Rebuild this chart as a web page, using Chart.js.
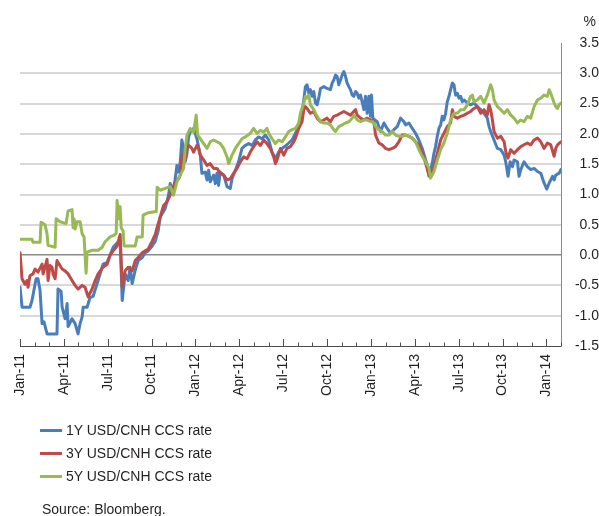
<!DOCTYPE html>
<html><head><meta charset="utf-8">
<script src="https://cdn.jsdelivr.net/npm/chart.js@4.4.0/dist/chart.umd.min.js"></script>
<style>
html,body{margin:0;padding:0;background:#fff;}
#wrap{position:relative;width:599px;height:516px;overflow:hidden;font-family:"Liberation Sans",Arial,Helvetica,sans-serif;color:#231f20;}
#chart{position:absolute;left:0;top:0;}
#legend{position:absolute;left:40px;top:420px;width:300px;height:70px;}
.item{position:absolute;left:0;height:20px;white-space:nowrap;font-size:14px;line-height:20px;}
.sw{position:absolute;left:0;top:9px;width:22px;height:3px;}
.lbl{position:absolute;left:26px;top:0;}
#src{position:absolute;left:42px;top:499px;font-size:14px;line-height:20px;}
#pct{position:absolute;right:3px;top:11px;font-size:14px;line-height:20px;}
</style></head>
<body>
<div id="wrap">
<canvas id="chart" width="599" height="516"></canvas>
<div id="pct">%</div>
<div id="legend"></div>
<div id="src">Source: Bloomberg.</div>
</div>
<script>
// x values are months elapsed since the start of January 2011
const tickLabels = ['Jan-11','Apr-11','Jul-11','Oct-11','Jan-12','Apr-12','Jul-12','Oct-12','Jan-13','Apr-13','Jul-13','Oct-13','Jan-14'];
const seriesNames = ['1Y USD/CNH CCS rate','3Y USD/CNH CCS rate','5Y USD/CNH CCS rate'];

const rate1Y = [[0,-0.53],[0.14,-0.86],[0.68,-0.86],[0.82,-0.75],[1.10,-0.39],[1.23,-0.39],[1.37,-0.58],[1.51,-1.13],[1.64,-1.10],[1.85,-1.30],[2.53,-1.30],[2.60,-0.56],[2.81,-0.60],[2.88,-0.86],[3.08,-1.05],[3.22,-0.80],[3.29,-1.18],[3.56,-1.05],[3.77,-1.13],[3.97,-1.30],[4.11,-1.13],[4.25,-1.02],[4.32,-0.86],[4.59,-0.86],[4.79,-0.70],[5.00,-0.68],[5.34,-0.42],[5.68,-0.15],[5.96,-0.12],[6.16,0.00],[6.37,0.13],[6.64,0.20],[6.85,0.22],[6.99,-0.75],[7.19,-0.31],[7.40,-0.42],[7.53,-0.20],[7.67,-0.47],[7.88,-0.25],[8.08,-0.09],[8.36,-0.04],[8.56,0.04],[8.77,0.07],[9.04,0.15],[9.25,0.23],[9.45,0.40],
[9.59,0.63],[9.93,0.77],[10.16,0.99],[10.27,1.18],[10.50,1.04],[10.73,1.48],[10.84,1.37],[10.96,1.54],[11.07,1.90],[11.19,1.76],[11.30,1.54],[11.42,1.68],[11.53,1.95],[11.64,2.03],[11.87,2.09],[12.10,1.92],[12.33,1.65],[12.44,1.35],[12.67,1.37],[12.79,1.24],[12.90,1.40],[13.01,1.21],[13.24,1.32],[13.36,1.18],[13.47,1.35],[13.58,1.15],[13.70,1.37],[13.93,1.32],[14.16,1.13],[14.38,1.10],[14.50,1.26],[14.73,1.40],[14.95,1.54],[15.18,1.76],[15.41,1.81],[15.64,1.84],[15.87,1.81],[16.10,1.90],[16.32,1.95],[16.55,1.92],[16.78,1.98],[17.01,1.90],[17.24,1.70],[17.47,1.59],[17.69,1.70],[17.92,1.76],[18.15,1.80],[18.38,1.85],[18.61,1.90],[18.84,2.01],
[19.06,2.12],[19.29,2.34],[19.41,2.56],[19.52,2.78],[19.63,2.81],[19.75,2.67],[19.86,2.73],[19.98,2.62],[20.09,2.70],[20.21,2.51],[20.32,2.48],[20.43,2.59],[20.55,2.75],[20.78,2.78],[21.00,2.75],[21.23,2.73],[21.35,2.84],[21.46,2.89],[21.58,2.97],[21.69,2.95],[21.80,2.81],[21.92,2.89],[22.03,2.97],[22.15,3.03],[22.26,2.95],[22.37,2.84],[22.49,2.78],[22.60,2.73],[22.72,2.64],[22.83,2.62],[22.95,2.70],[23.06,2.67],[23.17,2.59],[23.29,2.64],[23.40,2.53],[23.52,2.40],[23.63,2.62],[23.74,2.34],[23.86,2.62],[23.97,2.29],[24.04,2.64],[24.13,2.26],[24.27,2.23],[24.43,2.20],[24.54,2.12],[24.66,2.04],[24.89,2.18],[25.11,2.09],[25.34,2.01],[25.57,2.07],[25.80,2.12],[26.03,2.26],[26.26,2.20],[26.37,2.15],[26.60,2.18],[26.83,2.09],[27.05,2.01],[27.28,1.90],[27.51,1.76],[27.74,1.57],[27.85,1.49],[27.97,1.30],[28.08,1.41],[28.20,1.52],[28.31,1.68],[28.42,1.79],[28.54,1.96],[28.65,2.09],[28.77,2.15],[28.88,2.29],[28.99,2.23],[29.11,2.34],[29.22,2.53],[29.34,2.62],[29.45,2.73],[29.57,2.84],[29.68,2.81],[29.79,2.64],[29.91,2.67],[30.02,2.59],[30.14,2.62],[30.25,2.53],[30.37,2.56],[30.59,2.51],[30.82,2.48],[31.05,2.51],[31.28,2.45],[31.51,2.40],[31.74,2.34],[31.96,2.26],[32.08,2.12],[32.19,2.04],[32.42,1.90],[32.65,1.76],[32.88,1.74],[33.11,1.65],[33.22,1.54],[33.38,1.30],[33.52,1.54],[33.68,1.46],[33.79,1.57],[34.02,1.54],[34.13,1.30],[34.25,1.41],[34.47,1.54],[34.70,1.46],[34.93,1.41],[35.16,1.43],[35.39,1.38],[35.62,1.35],[35.84,1.19],[36.03,1.09],[36.19,1.19],[36.42,1.30],[36.53,1.24],[36.64,1.32],[36.87,1.35],[36.99,1.41]];

const rate3Y = [[0,0.04],[0.14,-0.39],[0.34,-0.48],[0.48,-0.42],[0.55,-0.53],[0.68,-0.34],[0.89,-0.31],[1.03,-0.23],[1.23,-0.28],[1.51,-0.15],[1.58,-0.31],[1.85,-0.07],[1.92,-0.42],[2.05,-0.17],[2.19,-0.20],[2.26,-0.31],[2.40,-0.39],[2.53,-0.09],[2.60,-0.12],[2.88,-0.23],[3.08,-0.26],[3.29,-0.31],[3.56,-0.42],[3.77,-0.50],[3.97,-0.56],[4.25,-0.50],[4.45,-0.53],[4.66,-0.69],[4.93,-0.56],[5.14,-0.42],[5.34,-0.31],[5.68,-0.20],[5.96,-0.15],[6.16,0.00],[6.37,0.07],[6.64,0.15],[6.85,0.34],[6.99,-0.53],[7.19,-0.26],[7.40,-0.20],[7.67,-0.26],[7.88,-0.09],[8.08,-0.04],[8.36,0.04],[8.56,0.07],[8.77,0.10],[9.04,0.23],[9.25,0.34],[9.36,0.44],[9.59,0.63],[9.82,0.82],[10.05,0.88],[10.27,0.99],[10.62,1.21],[10.84,1.26],[10.96,1.32],[11.07,1.59],[11.19,1.68],[11.30,1.59],[11.42,1.76],[11.53,1.81],[11.64,1.79],[11.76,1.76],[11.87,1.70],[12.10,1.81],[12.21,1.76],[12.33,1.65],[12.56,1.57],[12.79,1.48],[13.01,1.51],[13.24,1.43],[13.47,1.43],[13.70,1.35],[13.93,1.32],[14.16,1.24],[14.38,1.26],[14.61,1.35],[14.84,1.43],[15.07,1.54],[15.30,1.62],[15.53,1.59],[15.75,1.70],[15.98,1.79],[16.21,1.87],[16.44,1.81],[16.67,1.90],[16.89,1.84],[17.12,1.76],[17.35,1.62],[17.47,1.51],[17.58,1.57],[17.81,1.76],[18.04,1.65],[18.26,1.76],[18.49,1.79],[18.72,1.87],[18.84,1.93],[19.06,2.09],[19.29,2.20],[19.41,2.40],[19.52,2.45],[19.63,2.42],[19.86,2.34],[20.09,2.37],[20.32,2.26],[20.55,2.20],[20.78,2.23],[21.00,2.26],[21.23,2.20],[21.46,2.29],[21.69,2.31],[21.92,2.34],[22.15,2.37],[22.37,2.34],[22.60,2.31],[22.83,2.37],[22.95,2.40],[23.06,2.31],[23.29,2.26],[23.52,2.23],[23.74,2.26],[23.97,2.23],[24.20,2.20],[24.32,1.98],[24.54,1.85],[24.77,1.82],[25.00,1.76],[25.23,1.74],[25.46,1.76],[25.68,1.79],[25.91,1.87],[26.14,1.98],[26.37,1.98],[26.60,1.96],[26.83,1.93],[27.05,1.87],[27.28,1.82],[27.51,1.68],[27.74,1.52],[27.97,1.32],[28.08,1.35],[28.31,1.46],[28.54,1.68],[28.77,1.90],[28.99,2.01],[29.22,2.12],[29.45,2.18],[29.57,2.40],[29.68,2.29],[29.91,2.26],[30.14,2.29],[30.37,2.31],[30.59,2.34],[30.82,2.37],[31.05,2.42],[31.28,2.45],[31.51,2.34],[31.74,2.40],[31.96,2.31],[32.08,2.48],[32.19,2.40],[32.31,2.23],[32.42,2.04],[32.65,1.93],[32.88,1.96],[33.11,1.87],[33.22,1.71],[33.38,1.60],[33.56,1.74],[33.79,1.68],[34.02,1.74],[34.25,1.79],[34.47,1.82],[34.70,1.85],[34.93,1.82],[35.16,1.90],[35.39,1.93],[35.62,1.87],[35.84,1.76],[36.07,1.85],[36.30,1.82],[36.53,1.63],[36.64,1.76],[36.76,1.82],[36.99,1.87]];

const rate5Y = [[0,0.26],[0.82,0.26],[0.89,0.21],[1.37,0.21],[1.44,0.54],[1.71,0.50],[1.85,0.35],[1.92,0.16],[2.40,0.13],[2.47,0.60],[2.74,0.55],[3.15,0.52],[3.29,0.73],[3.56,0.75],[3.63,0.45],[3.70,0.60],[3.77,0.43],[3.90,0.55],[4.11,0.55],[4.25,0.35],[4.38,0.30],[4.52,-0.30],[4.59,0.05],[4.93,0.08],[5.34,0.08],[5.62,0.13],[5.82,0.22],[6.16,0.30],[6.44,0.33],[6.58,0.36],[6.64,0.90],[6.78,0.60],[6.85,0.80],[6.92,0.45],[7.05,0.40],[7.12,0.15],[7.53,0.15],[7.88,0.15],[8.01,0.30],[8.36,0.30],[8.42,0.66],[8.77,0.70],[9.32,0.72],[9.38,1.12],[9.59,1.07],[9.93,1.10],[10.27,1.13],[10.50,0.99],[10.73,1.21],[10.96,1.32],[11.19,1.43],[11.30,1.76],[11.42,1.98],[11.64,2.09],[11.87,2.03],[12.05,2.31],[12.15,1.98],[12.33,1.92],[12.56,1.84],[12.79,1.76],[13.01,1.87],[13.24,1.90],[13.47,1.87],[13.70,1.84],[13.93,1.76],[14.16,1.62],[14.27,1.51],[14.50,1.65],[14.73,1.76],[14.95,1.84],[15.18,1.92],[15.41,1.95],[15.75,2.01],[15.98,2.09],[16.21,2.01],[16.44,2.06],[16.67,2.03],[16.89,2.09],[17.01,2.01],[17.24,1.92],[17.47,1.84],[17.69,1.90],[17.92,1.87],[18.15,1.95],[18.38,2.04],[18.61,2.07],[18.84,2.09],[19.06,2.18],[19.18,2.34],[19.41,2.51],[19.52,2.62],[19.63,2.59],[19.75,2.64],[19.86,2.48],[20.09,2.40],[20.32,2.29],[20.55,2.20],[20.78,2.18],[21.00,2.18],[21.23,2.15],[21.46,2.07],[21.58,2.04],[21.80,2.12],[22.03,2.15],[22.26,2.18],[22.49,2.20],[22.72,2.26],[22.83,2.31],[23.06,2.23],[23.29,2.20],[23.52,2.23],[23.74,2.23],[23.97,2.20],[24.13,2.20],[24.32,2.12],[24.54,2.07],[24.77,2.04],[25.00,1.98],[25.23,1.98],[25.46,2.04],[25.68,1.98],[25.91,1.96],[26.14,1.96],[26.37,1.98],[26.60,1.96],[26.83,1.93],[27.05,1.87],[27.28,1.74],[27.51,1.63],[27.74,1.54],[27.97,1.43],[28.08,1.27],[28.31,1.38],[28.54,1.57],[28.77,1.74],[28.99,1.85],[29.22,2.01],[29.45,2.23],[29.68,2.34],[29.91,2.34],[30.14,2.40],[30.37,2.40],[30.59,2.48],[30.82,2.62],[30.94,2.64],[31.05,2.53],[31.28,2.56],[31.51,2.62],[31.74,2.51],[31.96,2.64],[32.19,2.81],[32.31,2.73],[32.42,2.56],[32.65,2.45],[32.88,2.40],[33.11,2.34],[33.33,2.40],[33.56,2.31],[33.79,2.26],[34.02,2.18],[34.25,2.23],[34.47,2.20],[34.70,2.29],[34.93,2.26],[35.16,2.45],[35.39,2.56],[35.62,2.59],[35.84,2.64],[36.07,2.62],[36.19,2.73],[36.30,2.67],[36.53,2.51],[36.64,2.45],[36.76,2.42],[36.87,2.48],[36.99,2.51]];

const FONT = '"Liberation Sans", Arial, Helvetica, sans-serif';
const TEXT = '#231f20';
const toXY = arr => arr.map(([x, y]) => ({x, y}));

const axisTicks = {
  id: 'axisTicks',
  afterDraw(chart) {
    const xs = chart.scales.x, ctx = chart.ctx, b = chart.chartArea.bottom;
    ctx.save();
    ctx.strokeStyle = '#4d4d4d';
    ctx.lineWidth = 1;
    xs.ticks.forEach(t => {
      const px = Math.round(xs.getPixelForValue(t.value)) + 0.5;
      const len = t.value % 3 === 0 ? 7 : 3.5;
      ctx.beginPath(); ctx.moveTo(px, b); ctx.lineTo(px, b - len); ctx.stroke();
    });
    ctx.restore();
  }
};

const chart = new Chart(document.getElementById('chart'), {
  type: 'line',
  data: {
    datasets: [
      {label: seriesNames[0], data: toXY(rate1Y), borderColor: '#4a7ebb', order: 2},
      {label: seriesNames[1], data: toXY(rate3Y), borderColor: '#be4b48', order: 1},
      {label: seriesNames[2], data: toXY(rate5Y), borderColor: '#98b954', order: 0}
    ]
  },
  options: {
    responsive: false,
    animation: false,
    devicePixelRatio: 1,
    layout: {padding: {left: 20, top: 43, right: 0, bottom: 0}},
    elements: {
      line: {borderWidth: 3, tension: 0, fill: false, borderJoinStyle: 'round', borderCapStyle: 'round'},
      point: {radius: 0, hoverRadius: 0}
    },
    plugins: {legend: {display: false}, tooltip: {enabled: false}},
    scales: {
      x: {
        type: 'linear', min: 0, max: 37,
        grid: {display: false, drawTicks: false},
        border: {display: true, color: '#4d4d4d', width: 1},
        ticks: {
          stepSize: 1, autoSkip: false, minRotation: 90, maxRotation: 90, padding: 8,
          color: TEXT, font: {family: FONT, size: 14},
          callback: v => (v % 3 === 0 && tickLabels[v / 3]) ? tickLabels[v / 3] : ''
        },
        afterFit(s) { s.height = 170; }
      },
      y: {
        position: 'right', min: -1.5, max: 3.5,
        grid: {
          drawTicks: false,
          color: c => (c.tick.value === 3.5 || c.tick.value === -1.5) ? 'rgba(0,0,0,0)' : (c.tick.value === 0 ? '#8a8a8a' : '#d8d8d8'),
          lineWidth: c => c.tick.value === 0 ? 1.5 : 2
        },
        border: {display: true, color: '#8a8a8a', width: 1},
        ticks: {
          stepSize: 0.5, padding: 12, crossAlign: 'far',
          color: TEXT, font: {family: FONT, size: 14},
          callback: v => v.toFixed(1)
        },
        afterFit(s) { s.width = 38; }
      }
    }
  },
  plugins: [axisTicks]
});

// HTML legend built from the chart's datasets
const leg = document.getElementById('legend');
chart.data.datasets.forEach((ds, i) => {
  const it = document.createElement('div');
  it.className = 'item';
  it.style.top = (i * 23) + 'px';
  const sw = document.createElement('span');
  sw.className = 'sw';
  sw.style.background = ds.borderColor;
  const lb = document.createElement('span');
  lb.className = 'lbl';
  lb.textContent = ds.label;
  it.appendChild(sw); it.appendChild(lb);
  leg.appendChild(it);
});
</script>
</body></html>
